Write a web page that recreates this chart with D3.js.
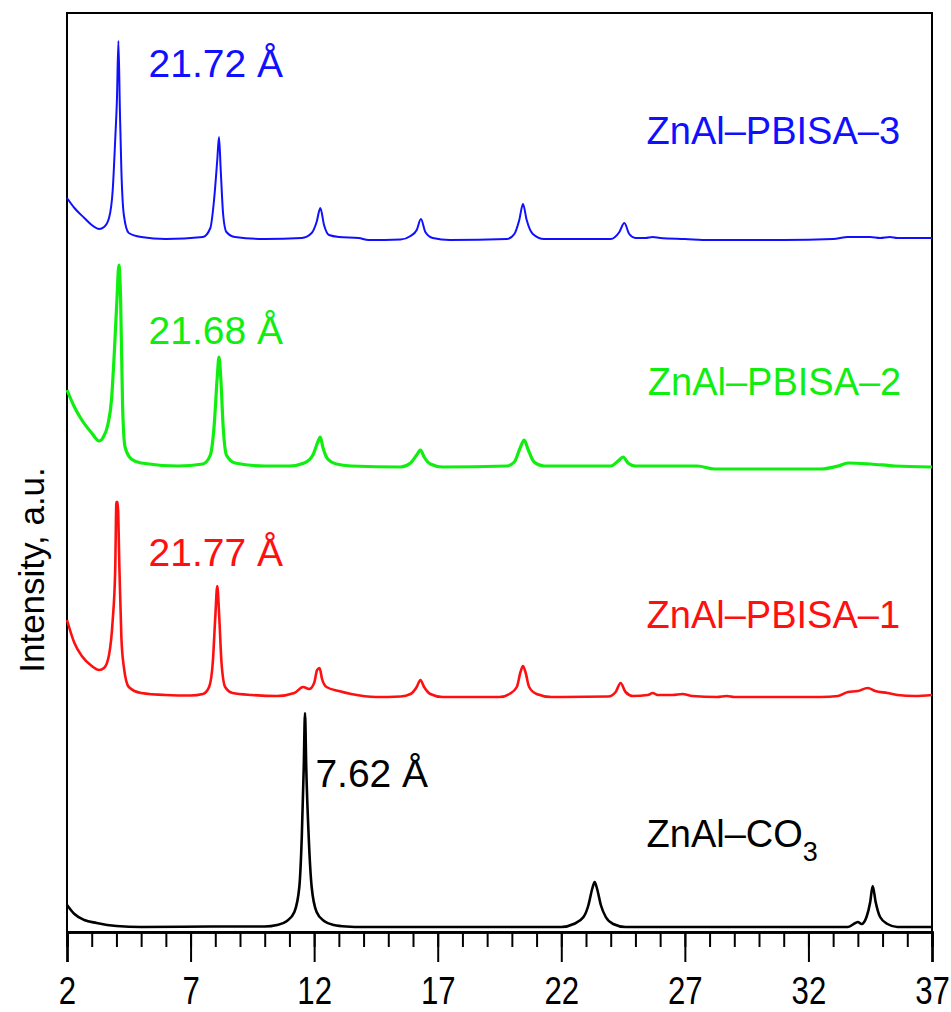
<!DOCTYPE html>
<html><head><meta charset="utf-8">
<script src="https://cdn.jsdelivr.net/npm/d3@7"></script>
<style>html,body{margin:0;padding:0;background:#fff}svg{display:block}text{font-family:"Liberation Sans",Arial,sans-serif}</style>
</head><body>
<script>
// 2θ (deg) vs intensity above each pattern's own baseline (a.u.)
const znalCO3 = [[2,22],[2.3,13],[2.7,7],[3.2,4],[4,1],[5,0],[8,0.5],[10,0.5],[10.5,2],[10.9,6],[11.2,15],[11.4,40],[11.5,90],[11.58,160],[11.63,214],[11.68,160],[11.78,90],[11.9,40],[12.1,15],[12.4,6],[12.8,2],[13.3,0.5],[14,0],[22,0],[22.5,3],[22.9,10],[23.1,22],[23.25,38],[23.35,45],[23.45,38],[23.6,22],[23.8,10],[24.1,3],[24.6,0],[33.6,0],[33.9,4],[34.0,5],[34.15,3],[34.35,10],[34.5,25],[34.6,41],[34.72,25],[34.9,10],[35.2,3],[35.6,0],[37,0]];
const pbisa1 = [[2,77],[2.3,54],[2.6,41],[3,31],[3.3,27],[3.5,29],[3.7,42],[3.85,77],[3.95,127],[4.0,195],[4.05,195],[4.12,130],[4.2,60],[4.3,30],[4.5,10],[5,4],[6,2],[7,1.5],[7.5,3],[7.75,10],[7.9,35],[8.0,80],[8.08,111],[8.16,80],[8.25,35],[8.4,10],[8.7,4],[9.5,2],[10.5,1],[11.2,4],[11.55,10],[11.8,8],[12.0,14],[12.12,27],[12.22,29],[12.32,18],[12.5,10],[13,6],[13.5,3],[14.5,0],[15.5,0.5],[15.9,3],[16.15,10],[16.3,17],[16.45,10],[16.7,3],[17.2,0],[19.5,0],[19.9,3],[20.2,10],[20.35,25],[20.45,31],[20.55,25],[20.7,10],[21,3],[21.6,0],[23.9,0.5],[24.2,5],[24.4,14],[24.6,5],[24.9,1],[25.5,2],[25.7,4],[25.9,2],[26.5,2],[26.9,3],[27.3,1],[28.3,0],[28.7,1],[29,0],[32.5,0],[33.2,1],[33.6,5],[34.0,6],[34.4,9],[34.7,6],[35.2,4],[35.6,2],[36.3,1],[37,2]];
const pbisa2 = [[2,77],[2.3,60],[2.6,47],[3,34],[3.3,26],[3.45,29],[3.65,42],[3.8,67],[3.92,117],[4.02,167],[4.1,202],[4.17,167],[4.25,60],[4.35,20],[4.6,8],[5,4],[6.5,1],[7.5,3],[7.8,12],[7.95,40],[8.08,90],[8.15,110],[8.22,90],[8.32,40],[8.45,12],[8.8,4],[10,1],[11,1],[11.6,4],[11.95,12],[12.15,25],[12.25,30],[12.35,20],[12.55,8],[12.9,3],[13.5,1],[15.5,0],[15.9,4],[16.15,12],[16.3,17],[16.45,10],[16.7,3],[17.2,0],[19.8,1],[20.1,5],[20.35,20],[20.5,27],[20.65,18],[20.9,5],[21.3,1],[24,1],[24.3,6],[24.5,10],[24.7,4],[25,1],[27.5,1],[28.2,-2],[32.5,-2],[33.2,1],[33.6,4],[34.5,3],[35.5,1],[37,0]];
const pbisa3 = [[2,42],[2.3,32],[2.7,22],[3,15],[3.3,11],[3.5,13],[3.7,22],[3.85,50],[3.95,100],[4.02,140],[4.08,199],[4.14,130],[4.2,70],[4.3,25],[4.5,7],[5,3],[6,1],[7.5,3],[7.8,12],[7.95,40],[8.08,80],[8.15,103],[8.22,70],[8.32,25],[8.45,8],[8.8,3],[10,1],[11.5,2],[11.9,7],[12.1,18],[12.25,32],[12.4,15],[12.6,5],[13,3],[13.8,2],[14.2,0],[15.5,0.5],[15.9,4],[16.15,10],[16.32,21],[16.5,8],[16.8,2],[17.5,0],[19.8,1],[20.1,6],[20.3,20],[20.45,36],[20.6,20],[20.85,6],[21.3,1],[24,1],[24.35,8],[24.55,17],[24.75,6],[25,2],[25.4,2],[25.7,3],[26,2],[27,1],[28,0],[31,0],[33,1],[33.6,3],[34.5,3],[34.9,2],[35.3,3],[35.6,2],[37,2]];

const seriesNames = ["ZnAl–CO3","ZnAl–PBISA–1","ZnAl–PBISA–2","ZnAl–PBISA–3"];
const seriesData = [znalCO3, pbisa1, pbisa2, pbisa3];
const seriesOffsets = [5, 235, 465, 692];
const seriesColors = ["#000000","#ff1010","#10ee10","#1010ff"];
const seriesWidths = [2.6, 2.6, 3.2, 2];
const spacingLabels = ["7.62 Å","21.77 Å","21.68 Å","21.72 Å"];
const xTicks = [2,7,12,17,22,27,32,37];
const xMinorTicks = d3.range(2, 38, 1);
const yLabel = "Intensity, a.u.";

const W = 951, H = 1012;
const svg = d3.select("body").append("svg").attr("width", W).attr("height", H);
const x = d3.scaleLinear().domain([2, 37]).range([67, 932]);
const y = d3.scaleLinear().domain([0, 919]).range([932, 13]);

// frame
svg.append("rect").attr("x", x(2)).attr("y", y(919)).attr("width", x(37) - x(2)).attr("height", y(0) - y(919))
  .attr("fill", "none").attr("stroke", "#000").attr("stroke-width", 2);

// traces
const line = d3.line().x(d => x(d[0])).y(d => y(d[1])).curve(d3.curveMonotoneX);
seriesData.forEach((s, i) => {
  svg.append("path")
    .datum(s.map(d => [d[0], d[1] + seriesOffsets[i]]))
    .attr("fill", "none").attr("stroke", seriesColors[i]).attr("stroke-width", seriesWidths[i])
    .attr("stroke-linejoin", "round").attr("d", line);
});

// bottom axis
const gx = svg.append("g").attr("transform", `translate(0,${y(0)})`);
gx.call(d3.axisBottom(x).tickValues(xMinorTicks).tickSize(15).tickFormat(""));
gx.append("g").call(d3.axisBottom(x).tickValues(xTicks).tickSize(30).tickFormat(d3.format("d")).tickPadding(14));
gx.selectAll(".domain").attr("stroke-width", 2.5);
gx.selectAll("line").attr("stroke", "#000").attr("stroke-width", 2);
gx.selectAll("text").attr("font-size", 39).attr("fill", "#000")
  .attr("transform", "scale(0.8,1)")
  .attr("font-family", "'Liberation Sans',Arial,sans-serif");

// y label
svg.append("text").attr("transform", `translate(44,570) rotate(-90)`).attr("text-anchor", "middle")
  .attr("font-size", 35).attr("fill", "#000").text(yLabel);

// annotations
const spacingPos = [[12.05, 145], [5.3, 366], [5.3, 588], [5.3, 855]];
spacingLabels.forEach((t, i) => {
  svg.append("text").attr("x", x(spacingPos[i][0])).attr("y", y(spacingPos[i][1]))
    .attr("font-size", 39).attr("fill", seriesColors[i]).text(t);
});
const namePos = [[25.45, 85], [25.45, 304], [25.5, 537], [25.45, 788]];
seriesNames.forEach((t, i) => {
  const tx = svg.append("text").attr("x", x(namePos[i][0])).attr("y", y(namePos[i][1]))
    .attr("font-size", 38).attr("fill", seriesColors[i]);
  if (i === 0) {
    tx.append("tspan").text("ZnAl–CO");
    tx.append("tspan").attr("font-size", 27).attr("dy", 14).text("3");
  } else tx.text(t);
});
</script>
</body></html>
